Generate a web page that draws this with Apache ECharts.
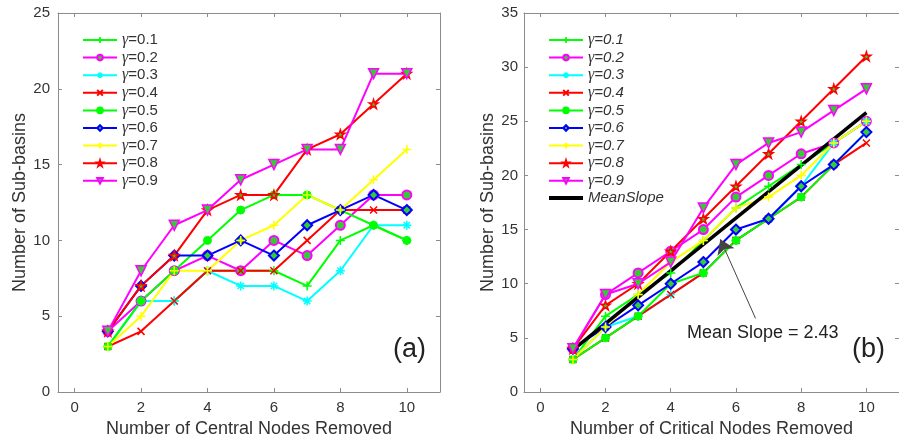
<!DOCTYPE html>
<html>
<head>
<meta charset="utf-8">
<script src="https://cdn.jsdelivr.net/npm/echarts@6/dist/echarts.min.js"></script>
<style>
  html, body { margin: 0; padding: 0; background: #fff; }
  #chart { width: 899px; height: 443px; }
</style>
</head>
<body>
<div id="chart"></div>
<script>
// Number of nodes removed (x values shared by both panels)
const nodesRemoved = [1, 2, 3, 4, 5, 6, 7, 8, 9, 10];
const xTicks = [0, 2, 4, 6, 8, 10];
const gammaNames = ['γ=0.1', 'γ=0.2', 'γ=0.3', 'γ=0.4', 'γ=0.5', 'γ=0.6', 'γ=0.7', 'γ=0.8', 'γ=0.9'];

// (a) sub-basins after removing central nodes
const centralG01 = [3, 6, 6, 8, 8, 8, 7, 10, 11, 10];
const centralG02 = [4, 6, 8, 9, 8, 10, 9, 11, 13, 13];
const centralG03 = [3, 6, 6, 8, 7, 7, 6, 8, 11, 11];
const centralG04 = [3, 4, 6, 8, 8, 8, 10, 12, 12, 12];
const centralG05 = [3, 6, 8, 10, 12, 13, 13, 12, 11, 10];
const centralG06 = [4, 7, 9, 9, 10, 9, 11, 12, 13, 12];
const centralG07 = [3, 5, 8, 8, 10, 11, 13, 12, 14, 16];
const centralG08 = [4, 7, 9, 12, 13, 13, 16, 17, 19, 21];
const centralG09 = [4, 8, 11, 12, 14, 15, 16, 16, 21, 21];

// (b) sub-basins after removing critical nodes
const criticalG01 = [3, 7, 9, 11, 14, 17, 19, 21, 23, 25];
const criticalG02 = [4, 9, 11, 13, 15, 18, 20, 22, 23, 25];
const criticalG03 = [3, 6, 7, 9, 11, 14, 16, 19, 23, 25];
const criticalG04 = [3, 5, 7, 9, 11, 14, 16, 18, 21, 23];
const criticalG05 = [3, 5, 7, 10, 11, 14, 16, 18, 21, 24];
const criticalG06 = [4, 6, 8, 10, 12, 15, 16, 19, 21, 24];
const criticalG07 = [3, 6, 9, 12, 14, 17, 18, 20, 23, 25];
const criticalG08 = [4, 8, 10, 13, 16, 19, 22, 25, 28, 31];
const criticalG09 = [4, 9, 10, 12, 17, 21, 23, 24, 26, 28];

// Mean-slope fit line end points (slope 2.43)
const meanSlopeX = [1, 10];
const meanSlopeY = [3.9, 25.8];
const meanSlopeText = 'Mean Slope = 2.43';

// Marker shapes
const PLUS = 'path://M-1,0L1,0M0,-1L0,1';
const CROSS = 'path://M-1,-1L1,1M-1,1L1,-1';
const ASTER = 'path://M-1,0L1,0M0,-1L0,1M-0.7,-0.7L0.7,0.7M-0.7,0.7L0.7,-0.7';
const TRI_DOWN = 'path://M-1,-0.9L1,-0.9L0,0.9Z';
const STAR = 'path://M0,-1L0.2245,-0.309L0.951,-0.309L0.363,0.118L0.588,0.809L0,0.382L-0.588,0.809L-0.363,0.118L-0.951,-0.309L-0.2245,-0.309Z';
const THICK_LINE = 'path://M0,0L34,0L34,4L0,4Z';

const FILL = '#33cc33';
const styles = [
  { color: '#00ff00', symbol: PLUS, fill: 'none', size: 9, bw: 1.5 },
  { color: '#ff00ff', symbol: 'circle', fill: FILL, size: 9, bw: 2 },
  { color: '#00ffff', symbol: ASTER, fill: 'none', size: 9, bw: 1.5 },
  { color: '#ff0000', symbol: CROSS, fill: 'none', size: 7, bw: 1.5 },
  { color: '#00ff00', symbol: 'circle', fill: '#00ff00', size: 8, bw: 1 },
  { color: '#0000ff', symbol: 'diamond', fill: FILL, size: 10, bw: 2 },
  { color: '#ffff00', symbol: PLUS, fill: 'none', size: 9, bw: 1.5 },
  { color: '#ff0000', symbol: STAR, fill: FILL, size: 9, bw: 1.5 },
  { color: '#ff00ff', symbol: TRI_DOWN, fill: FILL, size: 10, bw: 1.5 }
];

const centralData = [centralG01, centralG02, centralG03, centralG04, centralG05, centralG06, centralG07, centralG08, centralG09];
const criticalData = [criticalG01, criticalG02, criticalG03, criticalG04, criticalG05, criticalG06, criticalG07, criticalG08, criticalG09];

function pairs(ys) { return nodesRemoved.map((x, i) => [x, ys[i]]); }

function gammaSeries(values, k, gridIdx) {
  const s = styles[k];
  return {
    name: gammaNames[k],
    type: 'line',
    xAxisIndex: gridIdx * 2,
    yAxisIndex: gridIdx * 2,
    data: pairs(values),
    symbol: s.symbol,
    symbolSize: s.size,
    showAllSymbol: true,
    lineStyle: { color: s.color, width: 2 },
    itemStyle: { color: s.fill === 'none' ? 'rgba(0,0,0,0)' : s.fill, borderColor: s.color, borderWidth: s.bw },
    emphasis: { disabled: true },
    animation: false
  };
}

const AXIS_COLOR = '#8c8c8c';
const LABEL_COLOR = '#333';
const FONT = 'Liberation Sans, Arial, sans-serif';

function xAxes(gridIdx, name) {
  return [
    {
      type: 'value', gridIndex: gridIdx, min: -0.5, max: 11, position: 'bottom',
      name: name, nameLocation: 'middle', nameGap: 28,
      nameTextStyle: { fontFamily: FONT, fontSize: 18, color: LABEL_COLOR },
      axisLine: { show: true, onZero: false, lineStyle: { color: AXIS_COLOR, width: 1 } },
      axisTick: { show: true, inside: true, length: 4, customValues: xTicks, lineStyle: { color: AXIS_COLOR } },
      axisLabel: { customValues: xTicks, fontFamily: FONT, fontSize: 15, color: LABEL_COLOR, margin: 8 },
      splitLine: { show: false }
    },
    {
      type: 'value', gridIndex: gridIdx, min: -0.5, max: 11, position: 'top',
      axisLine: { show: true, onZero: false, lineStyle: { color: AXIS_COLOR, width: 1 } },
      axisTick: { show: true, inside: true, length: 4, customValues: xTicks, lineStyle: { color: AXIS_COLOR } },
      axisLabel: { show: false },
      splitLine: { show: false }
    }
  ];
}

function yAxes(gridIdx, max, nameGap, labelMargin) {
  return [
    {
      type: 'value', gridIndex: gridIdx, min: 0, max: max, interval: 5, position: 'left',
      name: 'Number of Sub-basins', nameLocation: 'middle', nameGap: nameGap, nameRotate: 90,
      nameTextStyle: { fontFamily: FONT, fontSize: 18, color: LABEL_COLOR },
      axisLine: { show: true, onZero: false, lineStyle: { color: AXIS_COLOR, width: 1 } },
      axisTick: { show: true, inside: true, length: 4, lineStyle: { color: AXIS_COLOR } },
      axisLabel: { fontFamily: FONT, fontSize: 15, color: LABEL_COLOR, margin: labelMargin },
      splitLine: { show: false }
    },
    {
      type: 'value', gridIndex: gridIdx, min: 0, max: max, interval: 5, position: 'right',
      axisLine: { show: true, onZero: false, lineStyle: { color: AXIS_COLOR, width: 1 } },
      axisTick: { show: true, inside: true, length: 4, lineStyle: { color: AXIS_COLOR } },
      axisLabel: { show: false },
      splitLine: { show: false }
    }
  ];
}

function legendFormatter(name) {
  if (name.charAt(0) === 'γ') return '{g|γ}{t|' + name.slice(1) + '}';
  return '{t|' + name + '}';
}

function legend(left, italic, names) {
  return {
    orient: 'vertical', left: left, top: 27,
    data: names,
    itemWidth: 34, itemHeight: 7, itemGap: 1.6,
    selectedMode: false,
    formatter: legendFormatter,
    textStyle: {
      fontFamily: FONT, fontSize: 15, color: LABEL_COLOR, lineHeight: 14,
      rich: {
        g: { fontFamily: 'Liberation Serif, serif', fontSize: 16, fontStyle: 'italic', color: LABEL_COLOR, lineHeight: 14 },
        t: { fontFamily: FONT, fontSize: 15, fontStyle: italic ? 'italic' : 'normal', color: LABEL_COLOR, lineHeight: 14 }
      }
    }
  };
}

const series = [];
centralData.forEach((v, k) => series.push(gammaSeries(v, k, 0)));
criticalData.forEach((v, k) => series.push(gammaSeries(v, k, 1)));
series.push({
  name: 'MeanSlope',
  type: 'line',
  xAxisIndex: 2, yAxisIndex: 2,
  data: meanSlopeX.map((x, i) => [x, meanSlopeY[i]]),
  symbol: 'none',
  lineStyle: { color: '#000', width: 3.5 },
  itemStyle: { color: '#000' },
  z: 3,
  animation: false
});
// Annotation arrow pointing at the mean-slope line
series.push({
  name: 'slopeNote',
  type: 'lines',
  coordinateSystem: 'cartesian2d',
  xAxisIndex: 2, yAxisIndex: 2,
  z: 4,
  silent: true,
  symbol: ['none', 'arrow'],
  symbolSize: 14,
  lineStyle: { color: '#444', width: 1, opacity: 1 },
  itemStyle: { color: '#000' },
  data: [{ coords: [[6.6, 6.8], [5.52, 14.1]] }],
  animation: false
});

const chart = echarts.init(document.getElementById('chart'), null, { renderer: 'canvas' });
chart.setOption({
  backgroundColor: '#fff',
  animation: false,
  grid: [
    { left: 58, top: 13, width: 382, height: 382 },
    { left: 524, top: 13, width: 382, height: 381 }
  ],
  xAxis: [...xAxes(0, 'Number of Central Nodes Removed'), ...xAxes(1, 'Number of Critical Nodes Removed')],
  yAxis: [...yAxes(0, 25, 28.5, 8), ...yAxes(1, 35, 19, 6)],
  legend: [
    legend(77, false, gammaNames),
    legend(543, true, gammaNames.concat([{ name: 'MeanSlope', icon: THICK_LINE }]))
  ],
  series: series,
  graphic: [
    { type: 'text', left: 393, top: 336, style: { text: '(a)', fontFamily: FONT, fontSize: 27, fill: '#222' } },
    { type: 'text', left: 852, top: 336, style: { text: '(b)', fontFamily: FONT, fontSize: 27, fill: '#222' } },
    { type: 'text', left: 687, top: 324, style: { text: meanSlopeText, fontFamily: FONT, fontSize: 18, fill: '#222' } }
  ]
});
</script>
</body>
</html>
